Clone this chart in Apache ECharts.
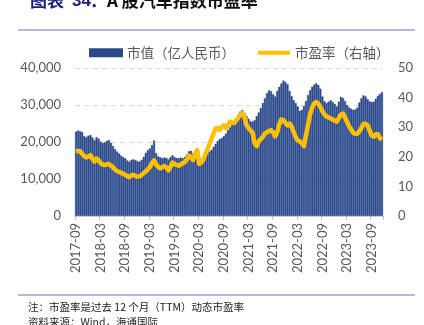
<!DOCTYPE html>
<html>
<head>
<meta charset="utf-8">
<script src="https://cdn.jsdelivr.net/npm/echarts@6/dist/echarts.min.js"></script>
<style>
html,body{margin:0;padding:0;background:#fff;}
#c{width:424px;height:325px;}
</style>
</head>
<body>
<div id="c"></div>
<script>
// Semi-monthly observations from 2017-09 to 2023-11
const startYear = 2017, startMonth = 9, pointsPerMonth = 2;
const tickLabels = ['2017-09','2018-03','2018-09','2019-03','2019-09','2020-03','2020-09','2021-03','2021-09','2022-03','2022-09','2023-03','2023-09'];

// 市值（亿人民币）
const marketCap = [
22800,23100,22900,22700,21600,21300,21700,21900,21200,20500,
21300,20900,20100,19700,19900,20300,20500,19800,18900,18100,
17400,16900,16300,15900,15600,15000,14700,15200,15300,15100,
14800,14700,15200,16000,17100,17800,18300,19200,20400,17000,
16100,15900,15600,15800,15700,15300,15900,16400,15900,15700,
15600,15800,15600,16000,16600,17500,17600,16900,17700,18300,
16000,15200,15600,16200,16900,17400,17900,18700,19500,20300,
20800,21100,21600,22300,23200,24000,24700,25300,26300,27300,
28200,28600,27900,27100,26300,25600,25500,25900,27000,28000,
29200,30500,31800,33200,34000,33700,32900,32300,33800,34900,
35800,36600,36200,35600,33800,32400,31300,30500,29600,28400,
28700,29700,31100,32700,34000,34900,35500,35900,35400,34400,
32300,31000,30500,30900,31300,30800,30300,29600,30900,32200,
31900,31100,30000,29400,29000,28700,28800,29300,30700,31800,
32600,32300,31600,31000,30800,30900,31700,32500,33000,33500
];

// 市盈率（右轴）
const peRatio = [
21.8,22.0,21.9,21.0,20.2,19.8,20.1,20.6,19.3,18.4,
19.4,18.8,17.8,17.4,17.2,17.5,17.6,17.0,16.5,15.7,
15.2,14.9,14.6,14.2,13.9,13.5,13.1,13.8,13.9,13.5,
13.3,13.4,13.9,14.5,15.1,15.8,16.6,17.9,18.8,17.4,
16.6,16.1,16.5,16.9,16.4,15.4,16.7,18.0,17.6,17.2,
17.0,17.4,17.8,18.3,19.1,20.3,20.0,18.9,21.0,22.3,
17.6,18.0,19.0,20.8,22.5,24.4,26.1,27.8,29.6,29.8,
29.1,30.0,30.6,29.7,30.6,31.9,31.5,31.4,32.3,33.2,
34.2,34.7,33.5,30.8,29.7,28.9,28.1,24.5,23.6,25.3,
26.0,26.8,27.9,28.3,28.7,29.0,28.2,26.9,28.3,31.0,
32.6,32.4,31.5,30.6,31.2,30.2,28.4,26.6,25.5,25.2,
24.5,23.6,27.3,30.8,34.4,36.6,38.1,38.5,37.9,36.8,
35.4,34.3,33.6,33.3,33.0,32.6,32.2,31.9,33.1,34.3,
34.6,33.3,31.8,30.3,29.2,28.1,27.8,27.8,28.6,29.8,
31.1,31.2,30.6,28.8,27.2,26.8,27.6,27.6,26.3,25.8
];

const categories = [];
for (let i = 0; i < marketCap.length; i++) {
  const m = startMonth - 1 + Math.floor(i / pointsPerMonth);
  const y = startYear + Math.floor(m / 12);
  const mm = String(m % 12 + 1).padStart(2, '0');
  categories.push(y + '-' + mm + (i % 2 === 0 ? '-01' : '-16'));
}

const numFont = 'Lato, "Noto Sans", sans-serif';
const cjkFont = '"Noto Sans CJK SC", sans-serif';
const gray = '#595959';
const titleFont = 'bold 17px "Noto Sans CJK SC", sans-serif';
const titleNum = 'bold 17px "Liberation Sans", sans-serif';

const chart = echarts.init(document.getElementById('c'), null, {renderer: 'canvas'});
chart.setOption({
  animation: false,
  backgroundColor: '#fff',
  grid: {left: 75, right: 41, top: 68, bottom: 109, containLabel: false},
  legend: {
    left: 84, top: 41,
    itemWidth: 32, itemHeight: 7, itemGap: 23,
    textStyle: {fontFamily: cjkFont, fontSize: 13.5, color: gray},
    data: [
      {name: '市值（亿人民币）', icon: 'rect'},
      {name: '市盈率（右轴）', icon: 'path://M0,0L0.05,0M0,1.6L32,1.6L32,5.4L0,5.4ZM0,7L0.05,7'}
    ]
  },
  xAxis: {
    type: 'category',
    data: categories,
    boundaryGap: true,
    axisLine: {lineStyle: {color: '#d9d9d9', width: 1}},
    axisTick: {show: true, interval: 11, length: 4, lineStyle: {color: '#bfbfbf'}},
    axisLabel: {
      interval: 11, rotate: 90, margin: 7,
      fontFamily: numFont, fontSize: 13, color: gray,
      formatter: v => v.slice(0, 7)
    }
  },
  yAxis: [
    {
      type: 'value', min: 0, max: 40000, interval: 10000,
      axisLine: {show: false}, axisTick: {show: false},
      splitLine: {lineStyle: {color: '#d9d9d9', type: [5, 4]}},
      axisLabel: {margin: 14, fontFamily: numFont, fontSize: 13, color: gray,
        formatter: v => v.toLocaleString('en-US')}
    },
    {
      type: 'value', min: 0, max: 50, interval: 10,
      axisLine: {show: false}, axisTick: {show: false},
      splitLine: {show: false},
      axisLabel: {margin: 15, fontFamily: numFont, fontSize: 13, color: gray}
    }
  ],
  series: [
    {
      name: '市值（亿人民币）', type: 'bar', yAxisIndex: 0,
      data: marketCap, barCategoryGap: '0%',
      itemStyle: {color: '#2B4A8C', borderColor: '#2B4A8C', borderWidth: 0.4}
    },
    {
      name: '市盈率（右轴）', type: 'line', yAxisIndex: 1,
      data: peRatio, symbol: 'none', smooth: false,
      lineStyle: {color: '#FFC000', width: 4.5, join: 'round'},
      itemStyle: {color: '#FFC000'}
    }
  ],
  graphic: [
    {type: 'text', left: 30, top: -8, style: {text: '图表', fill: '#1E1E78', font: titleFont}},
    {type: 'text', left: 72, top: -7, style: {text: '34', fill: '#1E1E78', font: titleNum}},
    {type: 'text', left: 90, top: -8, style: {text: '：', fill: '#1E1E78', font: titleFont}},
    {type: 'text', left: 107, top: -8, style: {text: 'A 股汽车指数市盈率', fill: '#111', font: titleFont}},
    {type: 'line', shape: {x1: 18, y1: 30, x2: 415, y2: 30}, style: {stroke: '#7470B0', lineWidth: 1}},
    {type: 'line', shape: {x1: 18, y1: 295, x2: 415, y2: 295}, style: {stroke: '#7470B0', lineWidth: 1}},
    {type: 'text', left: 28, top: 302, style: {text: '注：市盈率是过去 12 个月（TTM）动态市盈率', fill: '#222',
      font: '10.5px "Noto Sans CJK SC", sans-serif'}},
    {type: 'text', left: 28, top: 317, style: {text: '资料来源：Wind，海通国际', fill: '#222',
      font: '10.5px "Noto Sans CJK SC", sans-serif'}}
  ]
});
</script>
</body>
</html>
